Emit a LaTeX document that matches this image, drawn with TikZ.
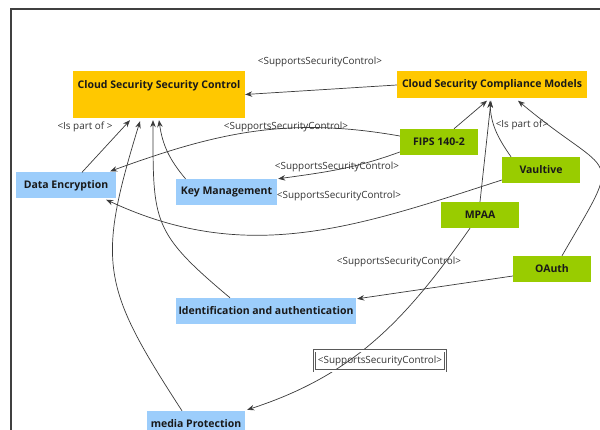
\documentclass[tikz,border=0pt]{standalone}
\usepackage{fontspec}
\setmainfont{Open Sans}
\usetikzlibrary{arrows.meta}

\definecolor{ctrlorange}{HTML}{FFC800}
\definecolor{modelgreen}{HTML}{99CC00}
\definecolor{ctrlblue}{HTML}{9CCDFB}
\definecolor{linegray}{HTML}{3A3A3A}

\begin{document}
\begin{tikzpicture}[x=1pt, y=1pt,
    box/.style={rectangle, inner sep=0pt, font=\bfseries\fontsize{10.5}{12}\selectfont, text=black!90},
    control/.style={box, fill=ctrlorange},
    model/.style={box, fill=modelgreen, minimum width=78pt, minimum height=26pt},
    area/.style={box, fill=ctrlblue, minimum height=26pt},
    rel/.style={draw=linegray, line width=0.7pt, -{Stealth[length=7pt, width=5.5pt]}},
    tag/.style={font=\fontsize{9.9}{11}\selectfont, text=black!80, inner sep=1pt}]
    \useasboundingbox (0,0) rectangle (600,-430);

    % frame
    \draw[line width=1.3pt, black!75] (11,-440) -- (11,-9) -- (601,-9);

    % controls and models
    \node[control, minimum width=172pt, text height=17.6pt, text depth=29.4pt] (cssc) at (159,-94.5) {Cloud Security Security Control};
    \node[control, minimum width=190pt, minimum height=27pt] (cscm) at (492,-85) {Cloud Security Compliance Models};

    \node[model] (fips) at (439,-142) {FIPS 140-2};
    \node[model] (vaultive) at (541,-170) {Vaultive};
    \node[model] (mpaa) at (480,-215) {MPAA};
    \node[model] (oauth) at (552,-269) {OAuth};

    % security areas
    \node[area, minimum width=100pt] (dataenc) at (66,-185.5) {Data Encryption};
    \node[area, minimum width=101pt] (keymgmt) at (226.5,-192) {Key Management};
    \node[area, minimum width=180pt] (ident) at (266,-311) {Identification and authentication};
    \node[area, minimum width=98pt] (media) at (196,-424) {media Protection};

    % labels
    \node[tag] (lbltop) at (320,-62) {<SupportsSecurityControl>};
    \node[tag] (lblpart1) at (85,-127) {<Is part of >};
    \node[tag] (lblfips) at (286,-127) {<SupportsSecurityControl>};
    \node[tag] (lblpart2) at (522,-125) {<Is part of>};
    \node[tag] (lblkm) at (337,-167) {<SupportsSecurityControl>};
    \node[tag] (lblvault) at (339,-196) {<SupportsSecurityControl>};
    \node[tag] (lbloauth) at (399,-262) {<SupportsSecurityControl>};

    % is part of
    \draw[rel] (cscm.west) -- (cssc.east);
    \draw[rel] ([shift={(16,0)}]dataenc.north) -- ([shift={(-29,-2)}]cssc.south);
    \draw[rel] ([shift={(-41,0)}]keymgmt.north) to[out=130, in=-82] ([shift={(0,-2)}]cssc.south);
    \draw[rel] ([shift={(-36,0)}]ident.north) to[out=140, in=-90, looseness=1.35] ([shift={(-6,-2)}]cssc.south);
    \draw[rel] ([shift={(-14,0)}]media.north) to[out=123, in=-107, looseness=1.3] ([shift={(-19,-3)}]cssc.south);

    \draw[rel] ([shift={(15,0)}]fips.north) -- ([shift={(-5,-2)}]cscm.south);
    \draw[rel] (mpaa.north) -- ([shift={(-1,-2)}]cscm.south);
    \draw[rel] ([shift={(-30,0)}]vaultive.north) to[out=125, in=-88] ([shift={(-2,-2)}]cscm.south);
    \draw[rel] ([shift={(10,0)}]oauth.north) to[out=60, in=-40, looseness=2] ([shift={(26,-2)}]cscm.south);

    % supports security control
    \draw[rel] ([shift={(0,6)}]fips.west) to[out=170, in=20] ([shift={(-6,1)}]dataenc.north east);
    \draw[rel] ([shift={(0,-10)}]fips.west) to[out=200, in=8] ([shift={(1,0)}]keymgmt.north east);
    \draw[rel] ([shift={(0,-10)}]vaultive.west) to[out=198, in=-25] ([shift={(-10,-1)}]dataenc.south east);
    \draw[rel] ([shift={(0,-7)}]oauth.west) -- ([shift={(1,-1)}]ident.north east);
    \draw[rel] ([shift={(-10,0)}]mpaa.south) to[out=-125, in=18] ([shift={(2,1)}]media.north east);

    % boxed label on the MPAA line
    \node[tag, draw=black!65, line width=0.8pt, double=white, double distance=1.4pt, minimum width=131pt, minimum height=20pt] (lblmpaa) at (380,-361) {<SupportsSecurityControl>};
\end{tikzpicture}
\end{document}
